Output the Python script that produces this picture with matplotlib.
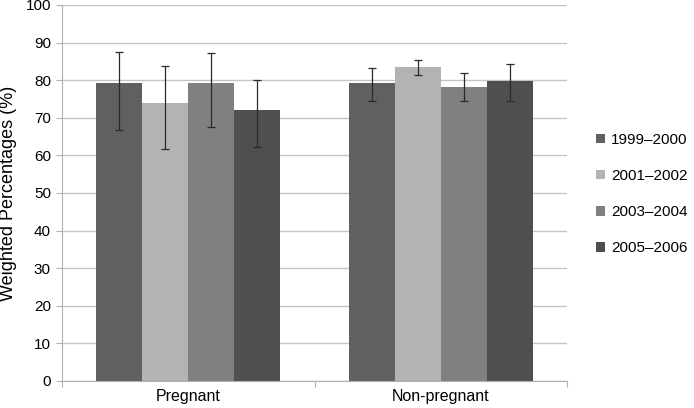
import matplotlib.pyplot as plt
import numpy as np

plt.rcParams['font.family'] = ['Liberation Sans', 'DejaVu Sans']

groups = ['Pregnant', 'Non-pregnant']
periods = ['1999\u20132000', '2001\u20132002', '2003\u20132004', '2005\u20132006']
values = {
    '1999\u20132000': [79.2, 79.2],
    '2001\u20132002': [74.0, 83.5],
    '2003\u20132004': [79.2, 78.3],
    '2005\u20132006': [72.0, 79.8],
}
err_low = {
    '1999\u20132000': [66.7, 74.4],
    '2001\u20132002': [61.6, 81.5],
    '2003\u20132004': [67.6, 74.4],
    '2005\u20132006': [62.3, 74.5],
}
err_high = {
    '1999\u20132000': [87.6, 83.2],
    '2001\u20132002': [83.7, 85.5],
    '2003\u20132004': [87.2, 82.0],
    '2005\u20132006': [80.1, 84.4],
}
colors = ['#606060', '#b3b3b3', '#808080', '#4f4f4f']

fig = plt.figure(figsize=(6.94, 4.08), dpi=100)
ax = fig.add_axes([62 / 694, 27 / 408, 505 / 694, 376 / 408])

x = np.arange(len(groups))
width = 0.182
for i, p in enumerate(periods):
    v = np.array(values[p])
    lo = v - np.array(err_low[p])
    hi = np.array(err_high[p]) - v
    ax.bar(x + (i - 1.5) * width, v, width, color=colors[i], label=p, zorder=2)
    ax.errorbar(x + (i - 1.5) * width, v, yerr=[lo, hi], fmt='none',
                ecolor='#2a2a2a', elinewidth=0.9, capsize=3, capthick=0.9, zorder=3)

ax.set_xlim(-0.5, 1.5)
ax.set_ylim(0, 100)
ax.set_yticks(np.arange(0, 101, 10))
ax.yaxis.grid(True, color='#c4c4c4', linewidth=1, zorder=0)
ax.set_axisbelow(True)

# category boundaries get the tick marks, names sit between them
ax.set_xticks([-0.5, 0.5, 1.5], minor=False)
ax.set_xticklabels([])
ax.set_xticks(x, minor=True)
ax.set_xticklabels(groups, minor=True, fontsize=11.5)
ax.tick_params(axis='x', which='minor', length=0, pad=6)
ax.tick_params(axis='x', which='major', length=4, color='#b0b0b0')
ax.tick_params(axis='y', length=4, color='#b0b0b0', labelsize=11, pad=4)

for s in ['top', 'right']:
    ax.spines[s].set_visible(False)
for s in ['left', 'bottom']:
    ax.spines[s].set_color('#b0b0b0')

ax.set_ylabel('Weighted Percentages (%)', fontsize=13, labelpad=6)

ax.legend(loc='center left', bbox_to_anchor=(582 / 694, 214 / 408),
          bbox_transform=fig.transFigure, frameon=False, fontsize=11,
          handlelength=0.6, handleheight=0.6, handletextpad=0.4, labelspacing=1.45)

fig.savefig('out.png', dpi=100)
